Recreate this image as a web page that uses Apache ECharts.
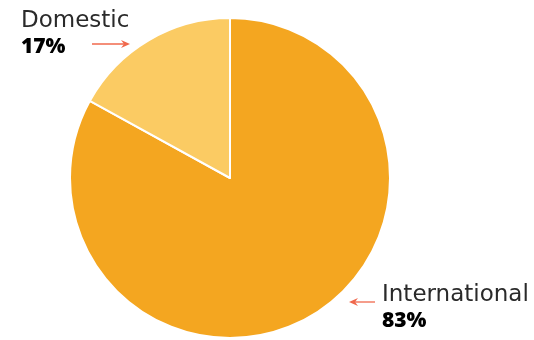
<!DOCTYPE html>
<html><head><meta charset="utf-8">
<script src="https://cdn.jsdelivr.net/npm/echarts@6/dist/echarts.min.js"></script>
<style>html,body{margin:0;padding:0;background:#fff}#c{width:534px;height:340px}</style>
</head><body><div id="c"></div>
<script>
const categories = ['International', 'Domestic'];
const values = [83, 17];
const colors = ['#f4a620', '#fbcb63'];
const labelPos = [[382, 281], [21, 7]];

const chart = echarts.init(document.getElementById('c'), null, {renderer: 'canvas'});
function arrow(x1, x2, y) {
  const dir = x2 > x1 ? 1 : -1;
  return [
    {type: 'line', shape: {x1: x1, y1: y, x2: x2 - dir * 2, y2: y}, style: {stroke: '#f0684c', lineWidth: 1.3}},
    {type: 'polygon', shape: {points: [[x2, y], [x2 - dir * 9, y - 4], [x2 - dir * 6, y], [x2 - dir * 9, y + 4]]}, style: {fill: '#f0684c'}}
  ];
}
chart.setOption({
  animation: false,
  graphic: [].concat(arrow(92, 130, 44), arrow(375, 349, 302)),
  series: [{
    type: 'pie',
    center: [230, 178],
    radius: [0, 160],
    startAngle: 90,
    clockwise: true,
    itemStyle: {borderColor: '#fff', borderWidth: 2},
    data: categories.map((c, i) => ({name: c, value: values[i], itemStyle: {color: colors[i]}})),
    label: {
      show: true,
      overflow: 'none',
      width: 200,
      formatter: p => '{n|' + p.name + '}\n{v|' + p.value + '%}',
      align: 'left',
      rich: {
        n: {fontFamily: 'DejaVu Sans', fontWeight: 'normal', fontSize: 23, color: '#2a2a2a', lineHeight: 28},
        v: {fontFamily: 'Open Sans', fontWeight: 800, fontSize: 21, color: '#000', lineHeight: 24}
      }
    },
    labelLine: {show: false},
    labelLayout: p => ({x: labelPos[p.dataIndex][0], y: labelPos[p.dataIndex][1], align: 'left', verticalAlign: 'top'})
  }]
});
</script></body></html>
